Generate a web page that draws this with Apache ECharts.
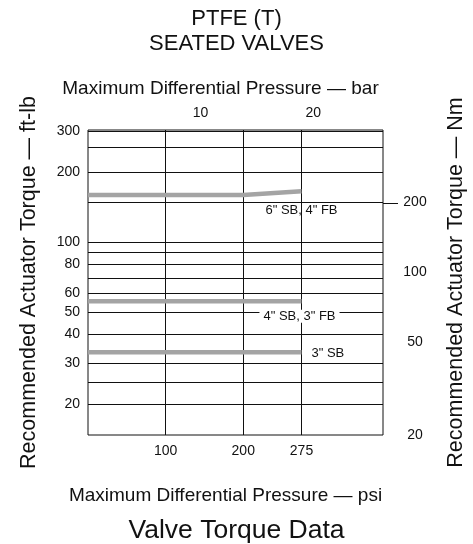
<!DOCTYPE html>
<html>
<head>
<meta charset="utf-8">
<script src="https://cdn.jsdelivr.net/npm/echarts@6/dist/echarts.min.js"></script>
<style>
  html, body { margin: 0; padding: 0; background: #fff; }
  #chart { width: 473px; height: 544px; }
</style>
</head>
<body>
<div id="chart"></div>
<script>
;(function () {
  const font = "'Liberation Sans', Arial, sans-serif"

  // axis ticks and grid lines
  const psiTicks = [100, 200, 275]
  const barTicks = [10, 20]
  const ftlbLabels = [20, 30, 40, 50, 60, 80, 100, 200, 300]
  const ftlbGrid = [20, 25, 30, 40, 50, 60, 70, 80, 90, 100, 200, 255, 300]
  const nmLabels = [20, 50, 100, 200]
  const nmGrid = [200]

  // torque curves (ft-lb) against pressure (psi)
  const psi = [0, 200, 275]
  const sb6 = [159, 159, 165]
  const sb4 = [55.5, 55.5, 55.5]
  const sb3 = [33.5, 33.5, 33.5]

  const psiPerBar = 14.5038
  const psiMax = 380
  const ftlbMin = 14.75
  const ftlbMax = 303
  const nmPerFtlb = 1.3558

  function curve(name, values, endLabel) {
    return {
      name,
      type: 'line',
      xAxisIndex: 0,
      yAxisIndex: 0,
      symbol: 'none',
      silent: true,
      data: psi.map((p, i) => [p, values[i]]),
      lineStyle: { color: '#a4a4a4', width: 4.5 },
      endLabel: Object.assign(
        { show: true, formatter: name, fontFamily: font, fontSize: 13, color: '#111', distance: 0 },
        endLabel
      ),
      z: 3,
    }
  }

  const gridLine = { show: true, lineStyle: { color: '#111', width: 1 } }
  const label = (values, extra) =>
    Object.assign({ customValues: values, fontFamily: font, fontSize: 14, color: '#111' }, extra)

  const chart = echarts.init(document.getElementById('chart'), null, { renderer: 'canvas' })

  chart.setOption({
    animation: false,
    title: [
      {
        text: 'PTFE (T)\nSEATED VALVES',
        left: 'center',
        top: 1,
        textStyle: { fontFamily: font, fontSize: 22, fontWeight: 'normal', color: '#111', lineHeight: 25 },
      },
      {
        text: 'Valve Torque Data',
        left: 'center',
        top: 512,
        textStyle: { fontFamily: font, fontSize: 26.5, fontWeight: 'normal', color: '#111' },
      },
    ],
    grid: {
      left: 88,
      right: 90,
      top: 130,
      bottom: 109,
      outerBoundsMode: 'none',
      show: true,
      borderColor: '#111',
      borderWidth: 1,
    },
    xAxis: [
      {
        type: 'value',
        position: 'bottom',
        min: 0,
        max: psiMax,
        axisLine: { show: false },
        axisTick: { show: false, customValues: psiTicks },
        axisLabel: label(psiTicks, { margin: 9 }),
        splitLine: gridLine,
        name: 'Maximum Differential Pressure — psi',
        nameLocation: 'middle',
        nameGap: 51,
        nameTextStyle: { fontFamily: font, fontSize: 19, color: '#111', padding: [0, 20, 0, 0] },
      },
      {
        type: 'value',
        position: 'top',
        min: 0,
        max: psiMax / psiPerBar,
        axisLine: { show: false },
        axisTick: { show: false, customValues: barTicks },
        axisLabel: label(barTicks, { margin: 10 }),
        splitLine: { show: false },
        name: 'Maximum Differential Pressure — bar',
        nameLocation: 'middle',
        nameGap: 32,
        nameTextStyle: { fontFamily: font, fontSize: 19, color: '#111', padding: [0, 30, 0, 0] },
      },
    ],
    yAxis: [
      {
        type: 'log',
        position: 'left',
        min: ftlbMin,
        max: ftlbMax,
        axisLine: { show: false },
        axisTick: { show: false, customValues: ftlbGrid },
        axisLabel: label(ftlbLabels, { margin: 8 }),
        splitLine: gridLine,
        minorSplitLine: { show: false },
        name: 'Recommended Actuator Torque — ft-lb',
        nameLocation: 'middle',
        nameRotate: 90,
        nameGap: 38,
        nameTextStyle: { fontFamily: font, fontSize: 21.5, color: '#111', padding: [0, 0, 10, 0] },
      },
      {
        type: 'log',
        position: 'right',
        min: ftlbMin * nmPerFtlb,
        max: ftlbMax * nmPerFtlb,
        axisLine: { show: false },
        axisTick: { show: false, customValues: nmGrid },
        axisLabel: label(nmLabels, { margin: 32, align: 'center' }),
        splitLine: gridLine,
        name: 'Recommended Actuator Torque — Nm',
        nameLocation: 'middle',
        nameRotate: 90,
        nameGap: 62,
        nameTextStyle: { fontFamily: font, fontSize: 21.5, color: '#111', padding: [0, 0, 10, 0] },
      },
    ],
    series: [
      curve('6" SB, 4" FB', sb6, { align: 'center', offset: [0, 19] }),
      curve('4" SB, 3" FB', sb4, {
        align: 'center',
        offset: [-2, 15],
        backgroundColor: '#fff',
        padding: [0, 4],
      }),
      curve('3" SB', sb3, { align: 'left', offset: [10, 1] }),
    ],
  })

  // outer tick beside the 200 Nm grid line, placed through the axes
  const tickX = chart.convertToPixel({ xAxisIndex: 0 }, psiMax)
  const tickY = Math.round(chart.convertToPixel({ yAxisIndex: 1 }, nmGrid[0])) + 0.5
  chart.setOption({
    graphic: [
      {
        type: 'line',
        shape: { x1: tickX, y1: tickY, x2: tickX + 15, y2: tickY },
        style: { stroke: '#111', lineWidth: 1 },
        silent: true,
      },
    ],
  })
})()
</script>
</body>
</html>
